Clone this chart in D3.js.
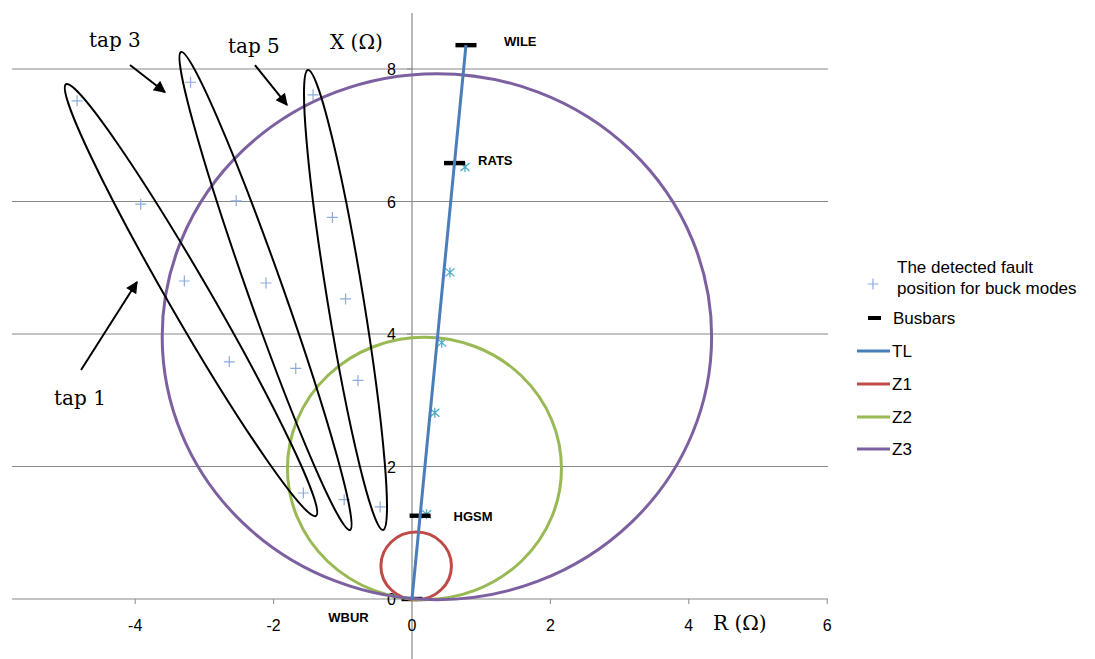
<!DOCTYPE html>
<html><head><meta charset="utf-8">
<script src="https://cdn.jsdelivr.net/npm/d3@7"></script>
<style>
html,body{margin:0;padding:0;background:#fff;}
svg{display:block;}
</style></head>
<body>
<svg id="chart" width="1095" height="659"></svg>
<script>
// ---------- data ----------
const xTicks = [-4, -2, 0, 2, 4, 6];
const yTicks = [0, 2, 4, 6, 8];

// detected fault positions (buck modes), grouped by tap
const faultTap = ["tap1","tap1","tap1","tap1","tap1","tap3","tap3","tap3","tap3","tap3","tap5","tap5","tap5","tap5","tap5"];
const faultR = [-4.84,-3.92,-3.29,-2.64,-1.57, -3.20,-2.54,-2.11,-1.68,-0.98, -1.43,-1.15,-0.96,-0.78,-0.46];
const faultX = [ 7.52, 5.96, 4.80, 3.58, 1.60,  7.80, 6.01, 4.77, 3.48, 1.50,  7.61, 5.76, 4.53, 3.30, 1.39];

// fault positions on the line
const lineFaultR = [0.766, 0.549, 0.43, 0.33, 0.21];
const lineFaultX = [6.52, 4.93, 3.87, 2.81, 1.28];

// busbars
const busNames = ["WBUR","HGSM","RATS","WILE"];
const busR = [0, 0.117, 0.614, 0.78];
const busX = [0, 1.257, 6.58, 8.36];

// transmission line
const tlR = [0, 0.78];
const tlX = [0, 8.36];

// mho zones
const zoneNames = ["Z1","Z2","Z3"];
const zoneCR = [0.06, 0.18, 0.36];
const zoneCX = [0.50, 1.97, 3.96];
const zoneRad = [0.51, 1.98, 3.97];

// legend
const legendLabels = ["The detected fault|position for buck modes","Busbars","TL","Z1","Z2","Z3"];

// ---------- layout ----------
const svg = d3.select("#chart");
const x = d3.scaleLinear().domain([-6, 6]).range([412 - 6*69.2, 412 + 6*69.2]);
const y = d3.scaleLinear().domain([0, 8]).range([599, 69]);
const gridLeft = 12, gridRight = 828, axisTop = 13, axisBottom = 659;

const colors = {grid:"#888888", tl:"#4A7EBB", Z1:"#BE4B48", Z2:"#98B954", Z3:"#7D60A0", plus:"#8EAADB", star:"#4BACC6"};
const tickFont = "'Liberation Sans Narrow','Liberation Sans',Arial,sans-serif";
const serif = "'DejaVu Serif','Liberation Serif',serif";

// gridlines
svg.append("g").selectAll("line").data(yTicks.filter(d=>d>0)).join("line")
  .attr("x1", gridLeft).attr("x2", gridRight)
  .attr("y1", d=>y(d)).attr("y2", d=>y(d))
  .attr("stroke", colors.grid).attr("stroke-width", 1);

// x axis line at 0
svg.append("line").attr("x1", gridLeft).attr("x2", gridRight)
  .attr("y1", y(0)).attr("y2", y(0)).attr("stroke", colors.grid).attr("stroke-width", 1.2);
// y axis
svg.append("line").attr("x1", x(0)).attr("x2", x(0))
  .attr("y1", axisTop).attr("y2", axisBottom).attr("stroke", colors.grid).attr("stroke-width", 1.2);

// x ticks
svg.append("g").selectAll("line").data(xTicks.filter(d=>d!==0)).join("line")
  .attr("x1", d=>x(d)).attr("x2", d=>x(d)).attr("y1", y(0)).attr("y2", y(0)+5)
  .attr("stroke", colors.grid);
svg.append("g").selectAll("text").data(xTicks).join("text")
  .attr("x", d=>x(d)).attr("y", 631).attr("text-anchor","middle")
  .attr("font-family", tickFont).attr("font-size", 16).attr("fill","#000")
  .text(d=>d);
// y ticks
svg.append("g").selectAll("line").data(yTicks).join("line")
  .attr("x1", x(0)-5).attr("x2", x(0)).attr("y1", d=>y(d)).attr("y2", d=>y(d))
  .attr("stroke", colors.grid);
svg.append("g").selectAll("text").data(yTicks).join("text")
  .attr("x", x(0)-16).attr("y", d=>y(d)+6).attr("text-anchor","end")
  .attr("font-family", tickFont).attr("font-size", 16).attr("fill","#000")
  .text(d=>d);

// axis titles
svg.append("text").attr("x", x(-1.185)).attr("y", y(8.30))
  .attr("font-family", serif).attr("font-size", 20).attr("fill","#000").text("X (Ω)");
svg.append("text").attr("x", x(4.35)).attr("y", 630)
  .attr("font-family", serif).attr("font-size", 20).attr("fill","#000").text("R (Ω)");

// line fault markers (asterisks)
const starPath = "M0,-5V5M-4.5,-4L4.5,4M-4.5,4L4.5,-4";
svg.append("g").selectAll("path").data(lineFaultR).join("path")
  .attr("transform", (d,i)=>`translate(${x(d)},${y(lineFaultX[i])})`)
  .attr("d", starPath).attr("stroke", colors.star).attr("stroke-width", 1.3).attr("fill","none");

// busbars
svg.append("g").selectAll("rect").data(busR).join("rect")
  .attr("x", d=>x(d)-10.5).attr("y", (d,i)=>y(busX[i])-2.2)
  .attr("width", 21).attr("height", 4.4).attr("fill","#000");

// zones
svg.append("g").selectAll("ellipse").data(zoneNames).join("ellipse")
  .attr("cx", (d,i)=>x(zoneCR[i])).attr("cy", (d,i)=>y(zoneCX[i]))
  .attr("rx", (d,i)=>x(zoneRad[i]) - x(0)).attr("ry", (d,i)=>y(0) - y(zoneRad[i]))
  .attr("fill","none").attr("stroke", d=>colors[d]).attr("stroke-width", 3);

// TL
svg.append("path").datum(tlR.map((r,i)=>[r, tlX[i]]))
  .attr("d", d3.line().x(d=>x(d[0])).y(d=>y(d[1])))
  .attr("stroke", colors.tl).attr("stroke-width", 3).attr("fill","none");

// detected fault positions (+)
const plusPath = "M-5.5,0H5.5M0,-5.5V5.5";
svg.append("g").selectAll("path").data(faultR).join("path")
  .attr("transform", (d,i)=>`translate(${x(d)},${y(faultX[i])})`)
  .attr("d", plusPath).attr("stroke", colors.plus).attr("stroke-width", 1.2).attr("fill","none");

// bus labels
const busLabelPos = {WBUR:[-1.21, -0.34], HGSM:[0.6, -0.0], RATS:[0.955, 6.55], WILE:[1.33, 8.34]};
svg.append("g").selectAll("text").data(busNames).join("text")
  .attr("x", d=>x(busLabelPos[d][0])).attr("y", (d,i)=>d==="HGSM" ? y(busX[i]) + 5 : y(busLabelPos[d][1]))
  .attr("font-family","'Liberation Sans',Arial,sans-serif").attr("font-weight","bold")
  .attr("font-size", 13).attr("fill","#000").text(d=>d);

// annotation ellipses around taps
const tapNames = ["tap1","tap3","tap5"];
const tapTipA = [[-5.00, 7.77], [-3.338, 8.257], [-1.503, 7.985]];
const tapTipB = [[-1.387, 1.253], [-0.896, 1.042], [-0.419, 1.042]];
const tapHalfW = [20.5, 17.5, 18];
svg.append("g").selectAll("ellipse").data(tapNames).join("ellipse")
  .each(function(d,i){
    const ax = x(tapTipA[i][0]), ay = y(tapTipA[i][1]);
    const bx = x(tapTipB[i][0]), by = y(tapTipB[i][1]);
    const cx = (ax+bx)/2, cy = (ay+by)/2;
    const len = Math.hypot(bx-ax, by-ay)/2;
    const ang = Math.atan2(by-ay, bx-ax)*180/Math.PI;
    d3.select(this).attr("cx",0).attr("cy",0).attr("rx",len).attr("ry",tapHalfW[i])
      .attr("transform",`translate(${cx},${cy}) rotate(${ang})`);
  })
  .attr("fill","none").attr("stroke","#000").attr("stroke-width",2);

// arrows
const arrowFrom = [[-4.075, 8.06], [-2.269, 8.06], [-4.783, 3.457]];
const arrowTo   = [[-3.569, 7.65], [-1.806, 7.457], [-3.974, 4.785]];
const defs = svg.append("defs");
defs.append("marker").attr("id","ah").attr("viewBox","0 0 10 10").attr("refX",9).attr("refY",5)
  .attr("markerWidth",7).attr("markerHeight",6).attr("markerUnits","strokeWidth").attr("orient","auto")
  .append("path").attr("d","M0,0L10,5L0,10z").attr("fill","#000");
svg.append("g").selectAll("line").data(arrowFrom).join("line")
  .attr("x1", d=>x(d[0])).attr("y1", d=>y(d[1]))
  .attr("x2", (d,i)=>x(arrowTo[i][0])).attr("y2", (d,i)=>y(arrowTo[i][1]))
  .attr("stroke","#000").attr("stroke-width",2).attr("marker-end","url(#ah)");

const tapLabels = ["tap 3","tap 5","tap 1"];
const tapLabelPos = [[-4.668, 8.332], [-2.659, 8.24], [-5.173, 2.928]];
svg.append("g").selectAll("text").data(tapLabels).join("text")
  .attr("x", (d,i)=>x(tapLabelPos[i][0])).attr("y", (d,i)=>y(tapLabelPos[i][1]))
  .attr("font-family", serif).attr("font-size", 20).attr("fill","#000").text(d=>d);

// legend
const lg = svg.append("g").attr("font-family","'Liberation Sans',Arial,sans-serif").attr("font-size",17).attr("fill","#000");
const legendRowY = [284, 318, 351, 384, 417, 449];
lg.append("path").attr("transform",`translate(873,${legendRowY[0]})`).attr("d",plusPath)
  .attr("stroke",colors.plus).attr("stroke-width",1.2);
const l0 = legendLabels[0].split("|");
lg.append("text").attr("x",897).attr("y",273).text(l0[0]);
lg.append("text").attr("x",897).attr("y",294).text(l0[1]);
lg.append("rect").attr("x",868).attr("y",legendRowY[1]-2).attr("width",13).attr("height",4).attr("fill","#000");
lg.append("text").attr("x",893).attr("y",legendRowY[1]+6).text(legendLabels[1]);
const lineCols = [colors.tl, colors.Z1, colors.Z2, colors.Z3];
legendLabels.slice(2).forEach((lab,i)=>{
  const yy = legendRowY[i+2];
  lg.append("line").attr("x1",857).attr("x2",890).attr("y1",yy).attr("y2",yy)
    .attr("stroke",lineCols[i]).attr("stroke-width",3);
  lg.append("text").attr("x",892).attr("y",yy+6).text(lab);
});
</script>
</body></html>
